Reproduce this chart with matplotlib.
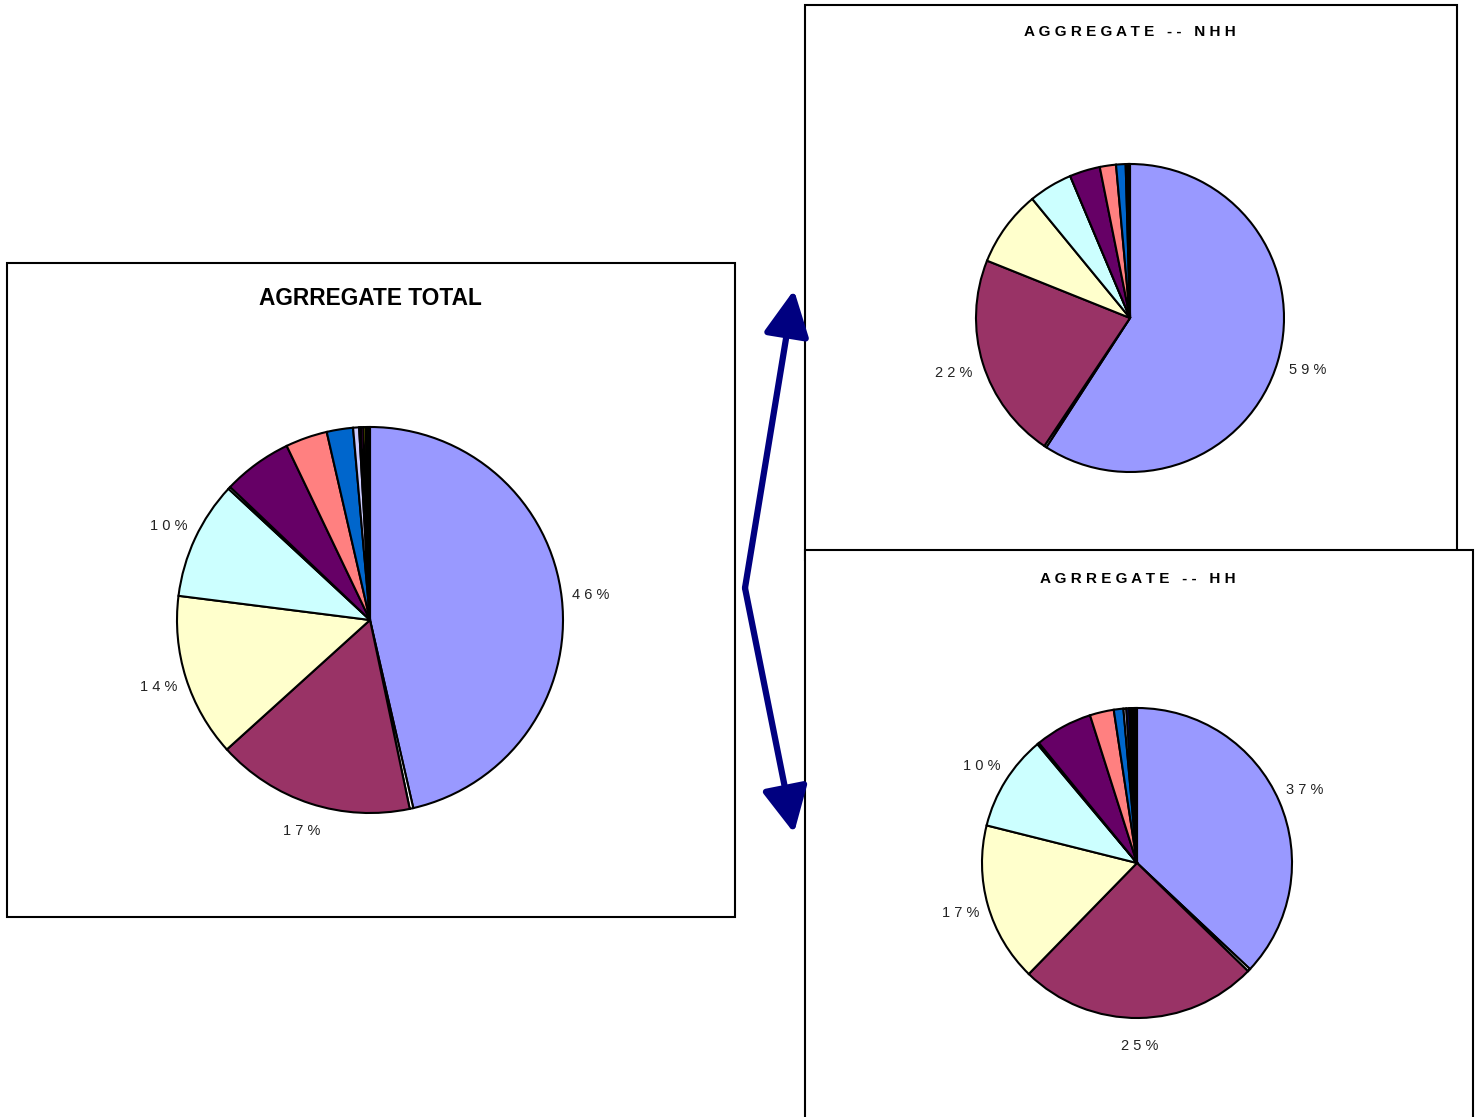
import matplotlib
matplotlib.use('Agg')
import matplotlib.pyplot as plt
from matplotlib.patches import Rectangle

plt.rcParams['font.family'] = ['Liberation Sans', 'DejaVu Sans']

# tariff groups, in the order they are stacked round each pie
categories = ['G1', 'G2', 'G3', 'G4', 'G5', 'G6', 'G7', 'G8', 'G9',
              'G10', 'G11', 'G12', 'G13', 'G14', 'G15']
slice_colors = ['#9999FF', '#FFFFFF', '#993366', '#FFFFCC', '#CCFFFF', '#FFFFFF',
                '#660066', '#FF8080', '#0066CC', '#CCCCFF', '#000080', '#FF00FF',
                '#FFFF00', '#800000', '#000000']

# shares in percent
total_share = [46.4, 0.3, 16.6, 13.7, 9.9, 0.2, 5.8, 3.5, 2.2, 0.5, 0.15, 0.2, 0.2, 0.15, 0.2]
nhh_share = [59.2, 0.25, 21.7, 8.0, 4.6, 0.0, 3.2, 1.7, 1.0, 0.2, 0.1, 0.0, 0.0, 0.05, 0.1]
hh_share = [37.0, 0.3, 25.0, 16.6, 10.0, 0.2, 6.0, 2.5, 1.0, 0.3, 0.3, 0.2, 0.2, 0.2, 0.2]

W, H = 1482, 1117
fig = plt.figure(figsize=(W / 100, H / 100), dpi=100)


def box(x0, y0, x1, y1, z):
    fig.patches.append(Rectangle((x0 / W, 1 - y1 / H), (x1 - x0) / W, (y1 - y0) / H,
                                 transform=fig.transFigure, facecolor='white',
                                 edgecolor='black', lw=1.5, zorder=z))


def spaced(s):
    return ' '.join(s)


def pct_label(p):
    if p >= 9.5:
        return spaced('%.0f%%' % p)
    return ''


def draw_pie(values, cx, cy, r, pctdist):
    half = r * 1.6
    ax = fig.add_axes([(cx - half) / W, 1 - (cy + half) / H, 2 * half / W, 2 * half / H])
    ax.pie(values, colors=slice_colors, startangle=90, counterclock=False, radius=1,
           wedgeprops=dict(edgecolor='black', linewidth=1.5),
           autopct=pct_label, pctdistance=pctdist,
           textprops=dict(fontsize=10.5, color='#222222'))
    ax.set_xlim(-half / r, half / r)
    ax.set_ylim(-half / r, half / r)
    ax.axis('off')
    return ax


box(7, 263, 735, 917, -3)
box(805, 5, 1457, 560, -2)
box(805, 550, 1473, 1130, -1)

draw_pie(total_share, 370, 620, 193, 1.15)
draw_pie(nhh_share, 1130, 318, 154, 1.2)
draw_pie(hh_share, 1137, 863, 155, 1.18)

fig.text(370 / W, 1 - 298 / H, 'AGRREGATE TOTAL', ha='center', va='center',
         fontsize=16.3, fontweight='bold')
fig.text(1130 / W, 1 - 32 / H, 'A G G R E G A T E   - -   N H H', ha='center', va='center',
         fontsize=11, fontweight='bold')
fig.text(1138 / W, 1 - 579 / H, 'A G R R E G A T E   - -   H H', ha='center', va='center',
         fontsize=11, fontweight='bold')

# connector arrows from the total box to the two breakdowns
over = fig.add_axes([0, 0, 1, 1], zorder=5)
over.set_xlim(0, W)
over.set_ylim(H, 0)
over.axis('off')
for tip in [(794, 290), (794, 833)]:
    over.annotate('', xy=tip, xytext=(745, 588),
                  arrowprops=dict(arrowstyle='-|>,head_length=0.7,head_width=0.35',
                                  color='#000080', lw=4.5, mutation_scale=40,
                                  shrinkA=0, shrinkB=0))

fig.savefig('out.png', dpi=100)
